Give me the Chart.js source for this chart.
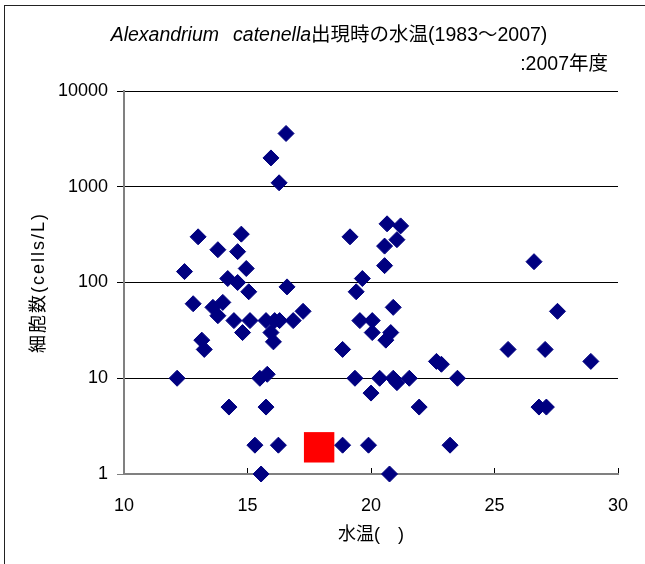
<!DOCTYPE html>
<html><head><meta charset="utf-8">
<script src="https://cdn.jsdelivr.net/npm/chart.js@4/dist/chart.umd.min.js"></script>
<style>html,body{margin:0;padding:0;background:#fff;overflow:hidden}</style>
</head><body>
<canvas id="c" width="645" height="564"></canvas>
<script>
// ---- data ----
const waterTemp = [16.56,15.95,16.28,13.0,14.75,13.8,14.6,14.95,12.45,14.2,14.6,15.05,16.6,12.8,13.6,14.0,13.8,14.45,15.1,14.8,15.75,16.1,16.3,16.85,15.95,16.05,13.15,13.25,17.25,12.15,15.5,15.8,14.25,15.75,15.3,16.25,15.55,
  19.15,20.65,21.2,21.05,20.55,20.55,19.65,19.4,20.9,19.55,20.05,20.05,20.8,20.6,18.85,22.65,22.85,19.35,20.35,20.9,21.05,21.55,23.5,20.0,21.95,18.85,19.9,23.2,20.75,
  26.6,27.55,25.55,27.05,28.9,26.8,27.1];
const cellCount = [3600,2000,1100,300,320,220,210,140,130,110,100,80,90,60,55,62,45,40,40,30,40,40,40,40,30,24,25,20,50,10,10,11,5,5,2,2,1,
  300,410,390,280,240,150,110,80,55,40,40,30,30,25,20,15,14,10,10,10,9,10,10,7,5,2,2,2,1,
  165,50,20,20,15,5,5];
const waterTemp2007 = [17.9];
const cellCount2007 = [1.9];
const yTickValues = [1,10,100,1000,10000];
const xTickValues = [10,15,20,25,30];
const titleItalicA = 'Alexandrium';
const titleItalicB = 'catenella';
const titleRest = '出現時の水温(1983～2007)';
const subTitle = ':2007年度';
const xTitle = '水温(　)';
const yTitle = '細胞数(cells/L)';

const FAM = "'Liberation Sans', 'Noto Sans CJK JP', sans-serif";

const framePlugin = {
  id: 'frame',
  beforeDraw(chart) {
    const ctx = chart.ctx;
    ctx.save();
    ctx.fillStyle = '#fff';
    ctx.fillRect(0, 0, chart.width, chart.height);
    ctx.strokeStyle = '#222';
    ctx.lineWidth = 1;
    ctx.strokeRect(4.5, 5.5, 800, 800);
    ctx.restore();
  },
  afterDraw(chart) {
    const ctx = chart.ctx;
    ctx.save();
    ctx.fillStyle = '#000';
    ctx.textBaseline = 'middle';
    ctx.textAlign = 'left';
    const itFont = 'italic 19.5px ' + FAM, nFont = '19.5px ' + FAM;
    ctx.font = itFont;
    const wA = ctx.measureText(titleItalicA).width;
    const wB = ctx.measureText(titleItalicB).width;
    ctx.font = nFont;
    const wR = ctx.measureText(titleRest).width;
    const gap = 14;
    const total = wA + gap + wB + wR;
    let x = 329 - total / 2;
    const y = 36;
    ctx.font = itFont;
    ctx.fillText(titleItalicA, x, y); x += wA + gap;
    ctx.fillText(titleItalicB, x, y); x += wB;
    ctx.font = nFont;
    ctx.fillText(titleRest, x, y);
    ctx.textAlign = 'right';
    ctx.fillText(subTitle, 608, 65);
    // y axis title
    const ca = chart.chartArea;
    ctx.translate(39, (ca.top + ca.bottom) / 2);
    ctx.rotate(-Math.PI / 2);
    ctx.font = '18px ' + FAM;
    ctx.textAlign = 'center';
    try { ctx.letterSpacing = '2px'; } catch (e) {}
    ctx.fillText(yTitle, 0, 0);
    ctx.restore();
  }
};

new Chart(document.getElementById('c'), {
  type: 'scatter',
  data: {
    datasets: [
      {
        label: '1983-2007',
        data: waterTemp.map((t, i) => ({x: t, y: cellCount[i]})),
        pointStyle: 'rectRot', pointRadius: 8, pointHoverRadius: 8,
        backgroundColor: '#000080', borderColor: '#000080', borderWidth: 1,
        clip: false
      },
      {
        label: '2007',
        data: waterTemp2007.map((t, i) => ({x: t, y: cellCount2007[i]})),
        pointStyle: 'rect', pointRadius: 21.5, pointHoverRadius: 21.5,
        backgroundColor: '#ff0000', borderColor: '#ff0000', borderWidth: 0,
        clip: false
      }
    ]
  },
  options: {
    responsive: false,
    animation: false,
    devicePixelRatio: 1,
    layout: {padding: {top: 91, right: 27, bottom: 0, left: 0}},
    plugins: {legend: {display: false}, tooltip: {enabled: false}, title: {display: false}},
    scales: {
      x: {
        type: 'linear', min: 10, max: 30,
        afterBuildTicks: s => { s.ticks = xTickValues.map(v => ({value: v})); },
        afterFit: s => { s.height = 90; s.paddingRight = 10; s.paddingLeft = 10; },
        border: {display: true, color: '#808080', width: 2},
        grid: {drawOnChartArea: false, drawTicks: true, tickLength: -6, color: '#000'},
        ticks: {color: '#000', font: {family: FAM, size: 18}, padding: 27, maxRotation: 0},
        title: {display: true, text: xTitle, color: '#000', font: {family: FAM, size: 18}, padding: {top: 0, bottom: 18}}
      },
      y: {
        type: 'logarithmic', min: 1, max: 10000,
        afterBuildTicks: s => { s.ticks = yTickValues.map(v => ({value: v, major: true})); },
        afterFit: s => { s.width = 124; },
        border: {display: true, color: '#808080', width: 2},
        grid: {color: c => (c.tick && c.tick.value === 1) ? '#808080' : '#000', lineWidth: 1, tickLength: 7, drawTicks: true},
        ticks: {color: '#000', font: {family: FAM, size: 18}, padding: 9, callback: v => String(v)},
        title: {display: false, text: yTitle}
      }
    }
  },
  plugins: [framePlugin]
});
</script>
</body></html>
